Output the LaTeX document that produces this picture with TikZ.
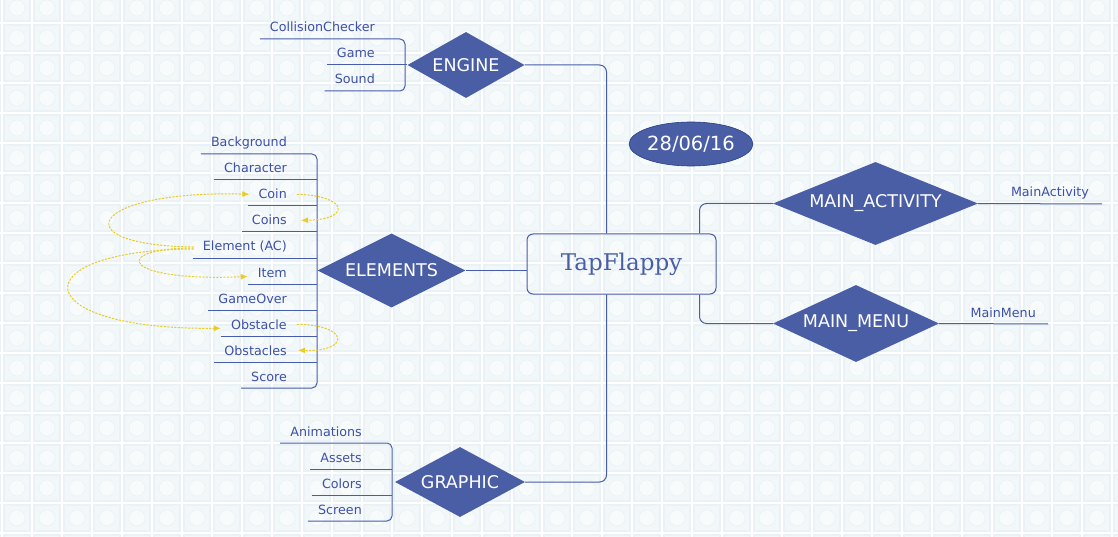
\documentclass[tikz,border=0pt]{standalone}
\usepackage{fontspec}
\setmainfont{DejaVu Sans}
\newfontfamily\titlefont{DejaVu Serif}
\usetikzlibrary{shapes.geometric,arrows.meta}
\definecolor{dblue}{RGB}{74,94,166}
\definecolor{lblue}{RGB}{72,92,172}
\definecolor{tblue}{RGB}{62,80,168}
\definecolor{eblue}{RGB}{40,62,132}
\definecolor{ylw}{RGB}{232,204,40}
\definecolor{tilebg}{RGB}{234,242,245}
\definecolor{tilein}{RGB}{242,247,249}
\definecolor{tilemot}{RGB}{248,251,252}
\begin{document}
\begin{tikzpicture}[x=1pt,y=-1pt,
  diam/.style={diamond, fill=dblue, text=white, inner sep=0pt, font=\fontsize{17.5}{20}\selectfont},
  lbl/.style={anchor=base east, inner sep=0pt, text=tblue, font=\fontsize{12.7}{15}\selectfont},
  wire/.style={draw=lblue, line width=1pt, rounded corners=5pt},
  refarrow/.style={draw=ylw, line width=1pt, dash pattern=on 2.2pt off 1.3pt, -{Latex[length=7pt,width=6pt]}},
]
\useasboundingbox (0,0) rectangle (1118,537);
% background tiles
\fill[white] (0,0) rectangle (1118,537);
\begin{scope}
\clip (0,0) rectangle (1118,537);
\foreach \i in {-1,...,37}{
  \foreach \j in {0,...,18}{
    \fill[tilebg] (\i*30+3,\j*30-6) rectangle +(28,28);
    \fill[tilein] (\i*30+5,\j*30-4) rectangle +(24,24);
    \draw[tilebg, fill=tilemot, line width=0.6pt] (\i*30+17,\j*30+8) circle (8);
  }
}
\end{scope}

% central box
\node[draw=lblue, line width=1pt, rounded corners=6pt, minimum width=189pt, minimum height=60pt,
      text=dblue, font=\titlefont\fontsize{23}{26}\selectfont] (box) at (621.5,264) {TapFlappy};

% date
\node[ellipse, fill=dblue, draw=eblue, line width=0.6pt, minimum width=123pt, minimum height=44pt, inner sep=0pt,
      text=white, font=\fontsize{19.5}{22}\selectfont] (date) at (691,144) {28/06/16};

% diamonds
\node[diam, shape aspect=1.773, minimum width=117pt, minimum height=66pt] (engine) at (466,65) {ENGINE};
\node[diam, shape aspect=2.0, minimum width=148pt, minimum height=74pt] (elements) at (391.5,270.5) {ELEMENTS};
\node[diam, shape aspect=1.857, minimum width=130pt, minimum height=70pt] (graphic) at (460,482) {GRAPHIC};
\node[diam, shape aspect=2.47, minimum width=205pt, minimum height=83pt] (mainact) at (875.5,203.5) {MAIN\_ACTIVITY};
\node[diam, shape aspect=2.156, minimum width=166pt, minimum height=77pt] (mainmenu) at (856,323.5) {MAIN\_MENU};

% main connectors
\coordinate (bt) at ([xshift=80pt]box.north west);
\coordinate (bb) at ([xshift=80pt]box.south west);
\coordinate (rt) at ([xshift=-17pt]box.north east);
\coordinate (rb) at ([xshift=-17pt]box.south east);
\draw[wire, rounded corners=7pt] (engine.east) -| (bt);
\draw[wire, rounded corners=7pt] (graphic.east) -| (bb);
\draw[wire] (elements.east) -- (elements.east -| box.west);
\draw[wire, rounded corners=7pt] (rt) |- (mainact.west);
\draw[wire, rounded corners=7pt] (rb) |- (mainmenu.west);

% right leaves
\coordinate (maend) at (1102,204);
\coordinate (mmend) at (1048,324);
\draw[wire] (mainact.east) -- (maend);
\draw[wire] (mainmenu.east) -- (mmend);
\node[lbl] (ma) at (1089,197) {MainActivity};
\node[lbl] (mm) at (1036,317) {MainMenu};

% ENGINE children
\node[lbl] (g1) at (375,32) {CollisionChecker};
\node[lbl] (g2) at (375,58) {Game};
\node[lbl] (g3) at (375,84) {Sound};
\draw[wire] ([shift={(-10,7)}]g1.base west) -- (405,39) -- (405,91) -- ([shift={(-10,7)}]g3.base west);
\draw[wire] ([shift={(-10,7)}]g2.base west) -- (engine.west);

% ELEMENTS children
\foreach \t/\y [count=\i] in {Background/154,Character/180,Coin/206,Coins/232,Element (AC)/258,Item/284,GameOver/310,Obstacle/336,Obstacles/362,Score/388}{
  \node[lbl] (e\i) at (287,\y-7) {\t};
}
\draw[wire] ([shift={(-10,7)}]e1.base west) -- (317,154) -- (317,388) -- ([shift={(-10,7)}]e10.base west);
\foreach \i/\y in {2/180,3/206,4/232,5/258,6/284,7/310,8/336,9/362}{
  \draw[wire] ([shift={(-10,7)}]e\i.base west) -- (317,\y);
}

% GRAPHIC children
\node[lbl] (p1) at (362,436) {Animations};
\node[lbl] (p2) at (362,462) {Assets};
\node[lbl] (p3) at (362,488) {Colors};
\node[lbl] (p4) at (362,514) {Screen};
\draw[wire] ([shift={(-10,7)}]p1.base west) -- (392,443) -- (392,521) -- ([shift={(-10,7)}]p4.base west);
\draw[wire] ([shift={(-10,7)}]p2.base west) -- (392,469);
\draw[wire] ([shift={(-10,7)}]p3.base west) -- (392,495);

% yellow references
\coordinate (src1) at ([xshift=-9pt]e5.west);
\coordinate (src2) at ([shift={(-9,1)}]e5.west);
\coordinate (src3) at ([shift={(-9,2)}]e5.west);
\draw[refarrow] (src1) .. controls (60,245) and (90,190) .. ([shift={(-9,0)}]e3.west);
\draw[refarrow] (src2) .. controls (110,248) and (120,282) .. ([shift={(-10,4)}]e6.west);
\draw[refarrow] (src3) .. controls (20,250) and (25,330) .. ([shift={(-10,4)}]e8.west);
\draw[refarrow] ([xshift=10pt]e3.east) .. controls (350,196) and (350,220) .. ([xshift=14pt]e4.east);
\draw[refarrow] ([xshift=10pt]e8.east) .. controls (350,325) and (350,352) .. ([xshift=11pt]e9.east);
\end{tikzpicture}
\end{document}
